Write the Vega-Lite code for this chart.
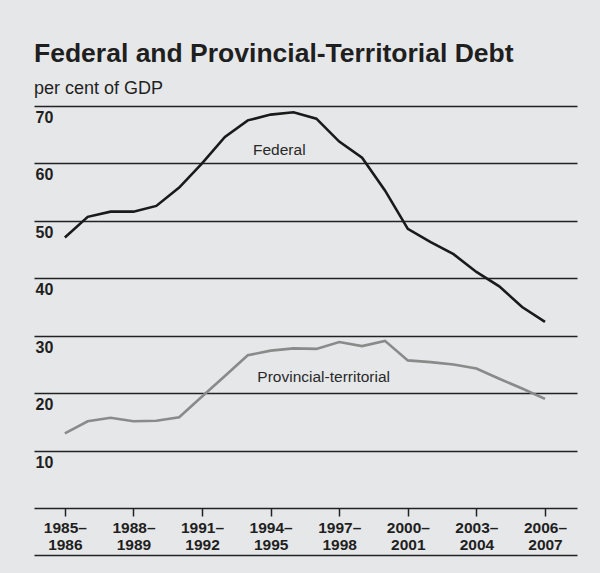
{
  "$schema": "https://vega.github.io/schema/vega-lite/v6.json",
  "width": 543,
  "height": 402,
  "autosize": {"type": "none"},
  "padding": {"left": 34, "top": 106, "right": 23, "bottom": 65},
  "background": "#e6e7e8",
  "title": {
    "text": "Federal and Provincial-Territorial Debt",
    "subtitle": "per cent of GDP",
    "anchor": "start",
    "frame": "group",
    "font": "Liberation Sans",
    "fontSize": 26.5,
    "fontWeight": "bold",
    "color": "#1f1f1f",
    "subtitleFont": "Liberation Sans",
    "subtitleFontSize": 18,
    "subtitleColor": "#1f1f1f",
    "subtitlePadding": 13,
    "offset": 8
  },
  "config": {
    "view": {"stroke": null},
    "font": "Liberation Sans"
  },
  "datasets": {
    "debt": [
      {"year": 1985, "series": "Federal", "value": 47.1},
      {"year": 1986, "series": "Federal", "value": 50.7},
      {"year": 1987, "series": "Federal", "value": 51.6},
      {"year": 1988, "series": "Federal", "value": 51.6},
      {"year": 1989, "series": "Federal", "value": 52.6},
      {"year": 1990, "series": "Federal", "value": 55.8},
      {"year": 1991, "series": "Federal", "value": 60.0},
      {"year": 1992, "series": "Federal", "value": 64.6},
      {"year": 1993, "series": "Federal", "value": 67.5},
      {"year": 1994, "series": "Federal", "value": 68.5},
      {"year": 1995, "series": "Federal", "value": 68.9},
      {"year": 1996, "series": "Federal", "value": 67.8},
      {"year": 1997, "series": "Federal", "value": 63.8},
      {"year": 1998, "series": "Federal", "value": 61.0},
      {"year": 1999, "series": "Federal", "value": 55.3},
      {"year": 2000, "series": "Federal", "value": 48.6},
      {"year": 2001, "series": "Federal", "value": 46.3},
      {"year": 2002, "series": "Federal", "value": 44.2},
      {"year": 2003, "series": "Federal", "value": 41.1},
      {"year": 2004, "series": "Federal", "value": 38.6},
      {"year": 2005, "series": "Federal", "value": 35.0},
      {"year": 2006, "series": "Federal", "value": 32.4},
      {"year": 1985, "series": "Provincial-territorial", "value": 13.0},
      {"year": 1986, "series": "Provincial-territorial", "value": 15.1},
      {"year": 1987, "series": "Provincial-territorial", "value": 15.7},
      {"year": 1988, "series": "Provincial-territorial", "value": 15.1},
      {"year": 1989, "series": "Provincial-territorial", "value": 15.2},
      {"year": 1990, "series": "Provincial-territorial", "value": 15.8},
      {"year": 1991, "series": "Provincial-territorial", "value": 19.4},
      {"year": 1992, "series": "Provincial-territorial", "value": 23.0},
      {"year": 1993, "series": "Provincial-territorial", "value": 26.6},
      {"year": 1994, "series": "Provincial-territorial", "value": 27.4},
      {"year": 1995, "series": "Provincial-territorial", "value": 27.8},
      {"year": 1996, "series": "Provincial-territorial", "value": 27.7},
      {"year": 1997, "series": "Provincial-territorial", "value": 28.9},
      {"year": 1998, "series": "Provincial-territorial", "value": 28.2},
      {"year": 1999, "series": "Provincial-territorial", "value": 29.1},
      {"year": 2000, "series": "Provincial-territorial", "value": 25.7},
      {"year": 2001, "series": "Provincial-territorial", "value": 25.4},
      {"year": 2002, "series": "Provincial-territorial", "value": 25.0},
      {"year": 2003, "series": "Provincial-territorial", "value": 24.3},
      {"year": 2004, "series": "Provincial-territorial", "value": 22.5},
      {"year": 2005, "series": "Provincial-territorial", "value": 20.8},
      {"year": 2006, "series": "Provincial-territorial", "value": 19.0}
    ],
    "labels": [
      {"year": 1993.23, "value": 61.4, "label": "Federal"},
      {"year": 1993.42, "value": 22.0, "label": "Provincial-territorial"}
    ]
  },
  "layer": [
    {
      "data": {"name": "debt"},
      "mark": {"type": "line", "strokeWidth": 2.6},
      "encoding": {
        "x": {
          "field": "year",
          "type": "quantitative",
          "scale": {"domain": [1983.65, 2007.4], "nice": false, "zero": false},
          "axis": {
            "orient": "bottom",
            "title": null,
            "grid": false,
            "domain": false,
            "ticks": true,
            "tickSize": 8,
            "tickWidth": 1.5,
            "tickColor": "#222222",
            "values": [1985, 1988, 1991, 1994, 1997, 2000, 2003, 2006],
            "labelExpr": "[datum.value + '–', '' + (datum.value + 1)]",
            "labelFont": "Liberation Sans",
            "labelFontSize": 15.5,
            "labelFontWeight": "bold",
            "labelColor": "#1f1f1f",
            "labelLineHeight": 17,
            "labelPadding": 4,
            "labelFlush": false,
            "labelOverlap": false
          }
        },
        "y": {
          "field": "value",
          "type": "quantitative",
          "scale": {"domain": [0, 70], "nice": false},
          "axis": {
            "title": null,
            "values": [0, 10, 20, 30, 40, 50, 60, 70],
            "grid": true,
            "gridColor": "#222222",
            "gridWidth": 1.3,
            "gridOpacity": 1,
            "domain": false,
            "ticks": false,
            "tickSize": 0,
            "labelExpr": "datum.value == 0 ? '' : datum.label",
            "labelAlign": "left",
            "labelBaseline": "alphabetic",
            "labelOffset": 16.5,
            "labelPadding": -1,
            "labelFont": "Liberation Sans",
            "labelFontSize": 16,
            "labelFontWeight": "bold",
            "labelColor": "#1f1f1f",
            "labelFlush": false,
            "labelOverlap": false
          }
        },
        "color": {
          "field": "series",
          "type": "nominal",
          "scale": {"domain": ["Federal", "Provincial-territorial"], "range": ["#1a1a1a", "#8a8a8a"]},
          "legend": null
        }
      }
    },
    {
      "data": {"name": "labels"},
      "mark": {"type": "text", "align": "left", "baseline": "alphabetic", "font": "Liberation Sans", "fontSize": 15.5, "color": "#2a2a2a"},
      "encoding": {
        "x": {
          "field": "year",
          "type": "quantitative",
          "axis": {
            "orient": "bottom",
            "offset": 47,
            "title": null,
            "grid": false,
            "labels": false,
            "ticks": false,
            "domain": true,
            "domainColor": "#222222",
            "domainWidth": 1.5
          }
        },
        "y": {"field": "value", "type": "quantitative"},
        "text": {"field": "label"}
      }
    }
  ],
  "resolve": {"axis": {"x": "independent"}}
}
